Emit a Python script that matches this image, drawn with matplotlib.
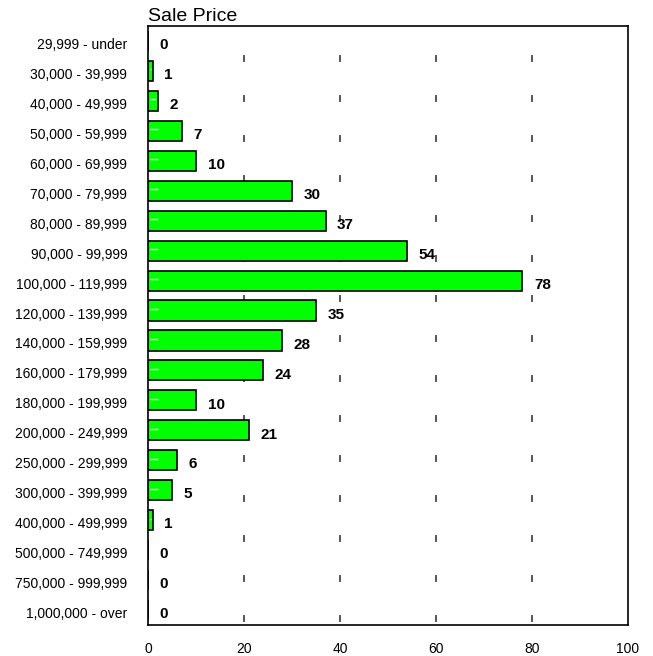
import matplotlib
matplotlib.use("Agg")
import matplotlib.pyplot as plt
import matplotlib.transforms as mtransforms

categories = ["29,999 - under", "30,000 - 39,999", "40,000 - 49,999", "50,000 - 59,999",
              "60,000 - 69,999", "70,000 - 79,999", "80,000 - 89,999", "90,000 - 99,999",
              "100,000 - 119,999", "120,000 - 139,999", "140,000 - 159,999", "160,000 - 179,999",
              "180,000 - 199,999", "200,000 - 249,999", "250,000 - 299,999", "300,000 - 399,999",
              "400,000 - 499,999", "500,000 - 749,999", "750,000 - 999,999", "1,000,000 - over"]
counts = [0, 1, 2, 7, 10, 30, 37, 54, 78, 35, 28, 24, 10, 21, 6, 5, 1, 0, 0, 0]
xticks = [0, 20, 40, 60, 80, 100]
title = "Sale Price"

plt.rcParams['font.family'] = ['Liberation Sans', 'DejaVu Sans']
plt.rcParams['lines.scale_dashes'] = False

fig = plt.figure(figsize=(6.53, 6.56), dpi=100)
ax = fig.add_axes([148 / 653, 1 - 625 / 656, 480 / 653, 599 / 656])

y = list(range(len(categories)))
ax.barh(y, counts, height=0.67, color="#00FF00", edgecolor="black", linewidth=1.2, zorder=3)

# small white highlight near bar base
for yi, c in zip(y, counts):
    if c > 0:
        ax.plot([0.35, min(2.0, c - 0.35)], [yi - 0.05, yi - 0.05], color="white", lw=1.0,
                solid_capstyle="butt", zorder=4)

for yi, c in zip(y, counts):
    ax.text(c + 2.4, yi + 0.14, str(c), fontsize=11, fontweight="bold",
            ha="left", va="center", zorder=5)

ax.set_xlim(0, 100)
ax.set_ylim(len(categories) - 0.5, -0.5)
ax.set_yticks(y)
ax.set_yticklabels(categories, fontsize=10)
ax.set_xticks(xticks)
ax.set_xticklabels([str(t) for t in xticks], fontsize=10)
ax.tick_params(axis="y", length=0, pad=15)
ax.tick_params(axis="x", length=0, pad=12)

shift = mtransforms.ScaledTranslation(0, -2.5 / 100, fig.dpi_scale_trans)
for lab in ax.get_yticklabels():
    lab.set_transform(lab.get_transform() + shift)

px = 72 / 100.0
for xv in xticks[1:-1]:
    ax.axvline(xv, color="#555555", lw=1.4,
               linestyle=(37 * px, (7 * px, 33 * px)), zorder=1)

for s in ax.spines.values():
    s.set_linewidth(1.2)
    s.set_color("black")

ax.set_title(title, fontsize=14, loc="left", pad=3.5)

fig.savefig("out.png", dpi=100)
